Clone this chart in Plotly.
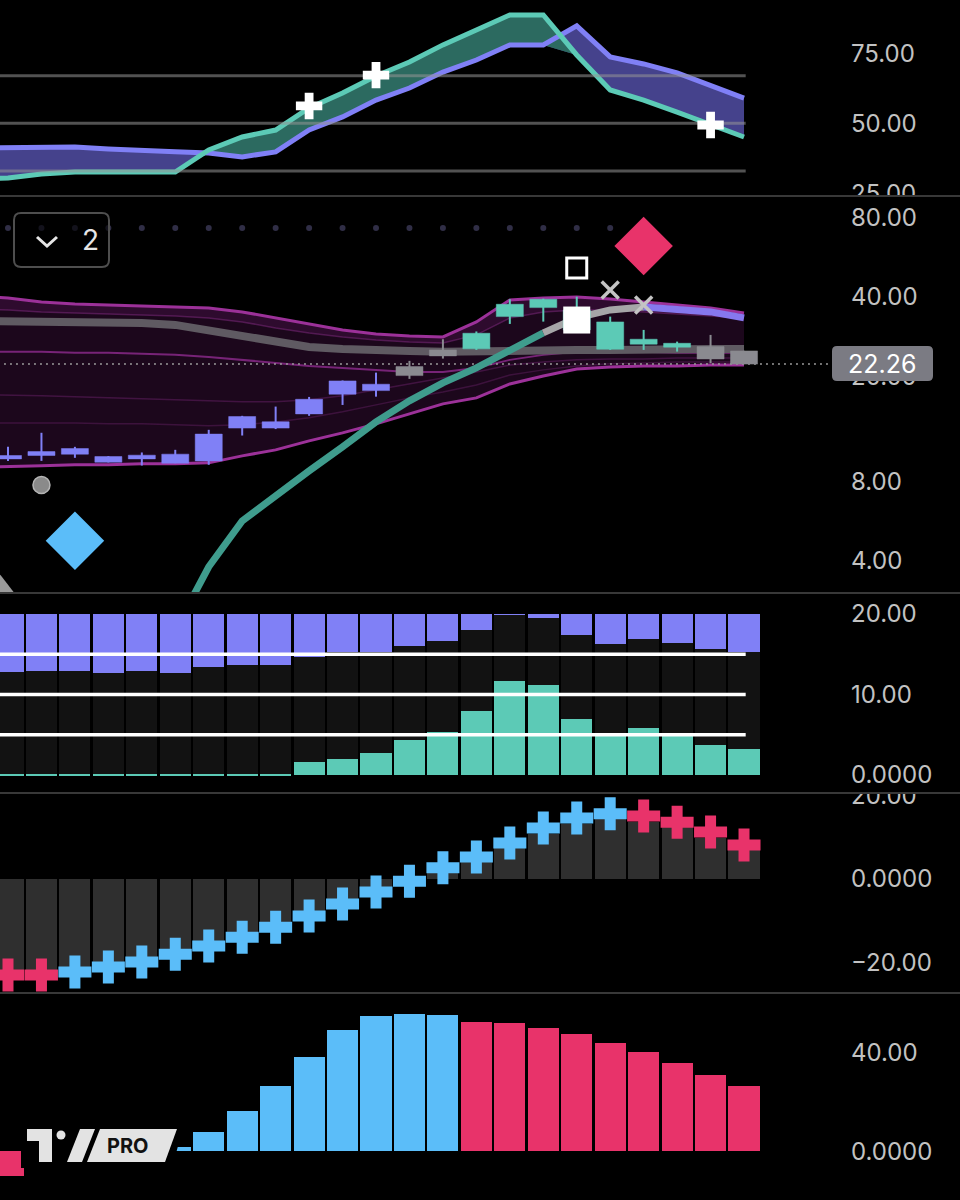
import plotly.graph_objects as go
from plotly.subplots import make_subplots
import numpy as np

W, H = 960, 1200
PLOT_R = 830          # right edge of plotting area (px)
XRANGE = [-0.239, 24.57]

idx = list(range(23))          # bar slots
line_x = list(range(-1, 23))   # line series include the partly hidden previous bar

# ---------------- Panel 1 (oscillator) ----------------
osc_fast = [29.9, 30.5, 31.9, 32.6, 32.6, 32.6, 32.6, 40.5, 45.1, 47.6, 55.5, 60.8, 66.9, 71.9,
            78.0, 83.3, 88.7, 88.7, 74.4, 61.9, 58.3, 54.0, 49.4, 45.1]
osc_slow = [41.2, 41.2, 41.2, 41.5, 40.8, 40.5, 39.8, 39.4, 38.0, 39.8, 47.6, 52.3, 58.3, 62.6,
            68.3, 72.6, 78.0, 78.0, 84.8, 73.7, 71.2, 68.0, 63.7, 59.0]
osc_levels = [33, 50, 67]
osc_cross_x = [9, 11, 21]
osc_cross_y = [56.2, 67.2, 49.4]

# ---------------- Panel 2 (price, log) ----------------
c_open = [10.03, 10.03, 10.15, 9.94, 10.06, 9.38, 9.57, 12.74, 12.74, 14.42, 17.12, 18.68, 20.14,
          23.92, 25.43, 33.69, 36.44, 35.7, 32.17, 27.66, 26.70, 25.94, 24.98]
c_close = [9.74, 10.38, 10.66, 9.46, 9.74, 10.15, 12.09, 14.09, 13.46, 16.38, 19.23, 17.67, 21.78,
           25.20, 29.14, 37.52, 39.2, 30.0, 25.35, 26.49, 25.81, 23.29, 22.26]
c_high = [10.82, 12.23, 10.82, 9.98, 10.30, 10.54, 12.55, 14.18, 15.37, 16.72, 19.30, 20.67, 22.90,
          27.66, 29.60, 39.2, 39.4, 40.1, 33.69, 30.0, 27.09, 28.72, 25.0]
c_low = [9.57, 9.57, 9.83, 9.44, 9.19, 9.38, 9.25, 11.94, 12.63, 14.18, 15.59, 16.76, 19.57,
         23.36, 25.2, 31.61, 32.25, 29.5, 25.20, 25.2, 24.83, 22.44, 22.26]
c_group = ['p', 'p', 'p', 'p', 'p', 'p', 'p', 'p', 'p', 'p', 'p', 'p', 'g',
           'g', 't', 't', 't', 't', 't', 't', 't', 'g', 'g']
last_price = 22.26

rib_top = [40.4, 39.65, 38.29, 37.63, 37.30, 36.98, 36.66, 36.34, 35.10, 33.31, 31.61, 30.00, 28.97, 28.47,
           28.22, 32.17, 38.97, 39.65, 40.00, 39.31, 38.29, 37.30, 36.34, 34.79]
rib_mid1 = [36.0, 35.71, 35.10, 34.79, 34.49, 34.19, 33.89, 33.31, 32.17, 30.53, 29.22, 28.22, 27.49, 27.02,
            26.78, 28.72, 33.31, 35.10, 35.71, 35.71, 35.10, 34.49, 33.89, 33.31]
rib_gray = [32.45, 32.45, 32.45, 32.17, 32.17, 31.89, 31.34, 30.00, 28.22, 27.02, 25.86, 25.42, 24.98, 24.98,
            24.77, 24.98, 25.20, 25.20, 25.20, 25.20, 25.42, 25.42, 25.42, 25.42]
rib_mid2 = [24.8, 24.77, 24.77, 24.56, 24.56, 24.35, 24.13, 23.71, 23.10, 22.50, 21.92, 21.54, 21.17, 20.79,
            20.79, 21.54, 23.10, 24.13, 24.77, 24.77, 24.77, 24.56, 24.56, 24.56]
rib_mid3 = [17.1, 17.02, 16.88, 16.73, 16.58, 16.44, 16.30, 16.16, 16.02, 16.02, 16.30, 16.88, 17.78, 18.73,
            19.74, 20.79, 22.11, 22.70, 23.10, 23.30, 23.30, 23.50, 23.50, 23.50]
rib_mid4 = [13.33, 13.33, 13.33, 13.33, 13.22, 13.22, 13.11, 12.99, 13.11, 13.45, 13.93, 14.68, 15.60, 16.58,
            17.47, 18.57, 20.26, 21.17, 21.92, 22.31, 22.50, 22.70, 22.70, 22.70]
rib_bot = [9.05, 9.086, 9.166, 9.246, 9.246, 9.327, 9.327, 9.409, 10.00, 10.535, 11.40, 12.22, 13.22, 14.42,
           15.74, 16.58, 18.73, 20.08, 21.35, 21.73, 21.92, 21.92, 22.11, 22.11]
curve = [None, None, None, None, None, 2.19, 3.80, 5.67, 7.12, 8.77, 10.82, 13.45, 16.16,
         18.90, 21.54, 25.20, 29.22, 33.31, 35.71, 36.66, 36.02, 35.10, 33.31]

dots_x = list(range(19))
dots_level = 73.0
sq_open = (17, 51.5)
diamond_red = (19, 62.4)
x_marks_x = [18, 19]
x_marks_y = [42.5, 37.3]
sq_white = (17, 32.7)
circle_gray = (1, 7.76)
diamond_blue = (2, 4.77)
tri_gray = (-0.23, 3.11)

# ---------------- Panel 3 ----------------
p3_max = 20
p3_purple_bottom = [12.80, 12.96, 12.88, 12.71, 12.88, 12.71, 13.45, 13.63, 13.63, 14.62, 15.32, 15.32,
                    16.02, 16.68, 18.01, 19.88, 19.54, 17.39, 16.27, 16.86, 16.36, 15.65, 15.32]
p3_teal = [0.12, 0.12, 0.12, 0.12, 0.12, 0.12, 0.12, 0.12, 0.12, 1.65, 1.99, 2.69, 4.35, 5.38, 7.95,
           11.68, 11.18, 6.92, 5.06, 5.88, 4.97, 3.73, 3.19]
p3_levels = [5, 10, 15]

# ---------------- Panel 4 ----------------
p4_hist = [-21.9, -21.9, -21.2, -20.0, -18.8, -16.9, -14.9, -12.8, -10.4, -7.7, -4.8, -1.9, -0.2,
           1.4, 4.1, 7.5, 10.8, 13.3, 14.5, 13.7, 12.5, 9.9, 7.0]
p4_cross = [-23.1, -23.1, -22.4, -21.2, -20.0, -18.1, -16.1, -14.0, -11.6, -8.9, -6.0, -3.1, -0.5,
            2.7, 5.3, 8.7, 12.3, 14.7, 15.7, 15.2, 13.7, 11.3, 8.2]
p4_up = [False, False, True, True, True, True, True, True, True, True, True, True, True,
         True, True, True, True, True, True, False, False, False, False]

# ---------------- Panel 5 ----------------
p5_vals = [-10, -6, -4, -2, 0.8, 1.8, 7.7, 16.4, 26.3, 38.0, 49.2, 55.0, 55.6, 55.2, 52.5, 52.1,
           49.8, 47.4, 43.8, 40.4, 35.6, 31.0, 26.5]
p5_up = [False, True, True, True, True, True, True, True, True, True, True, True, True, True,
         False, False, False, False, False, False, False, False, False]

# ---------------- colours ----------------
TEAL = '#5ccab6'
PURPLE = '#8080f6'
GRAYC = '#8a8a90'
BLUE = '#5bbdf9'
RED = '#e8336a'
MAG = '#9c3199'
HALF = 0.404   # candle half body width (in bar slots)

fig = make_subplots(rows=5, cols=1, vertical_spacing=0.002)

# ===== Panel 1 =====
lo = list(np.minimum(osc_fast, osc_slow))
fig.add_trace(go.Scatter(x=line_x, y=lo, mode='lines', line=dict(width=0), hoverinfo='skip'), 1, 1)
fig.add_trace(go.Scatter(x=line_x, y=osc_slow, mode='lines', line=dict(width=0), fill='tonexty',
                         fillcolor='#45428c', hoverinfo='skip'), 1, 1)
fig.add_trace(go.Scatter(x=line_x, y=lo, mode='lines', line=dict(width=0), hoverinfo='skip'), 1, 1)
fig.add_trace(go.Scatter(x=line_x, y=osc_fast, mode='lines', line=dict(width=0), fill='tonexty',
                         fillcolor='#2c6a60', hoverinfo='skip'), 1, 1)
fig.add_trace(go.Scatter(x=line_x, y=osc_slow, mode='lines', line=dict(color=PURPLE, width=5)), 1, 1)
fig.add_trace(go.Scatter(x=line_x, y=osc_fast, mode='lines', line=dict(color=TEAL, width=5)), 1, 1)
for lv in osc_levels:
    fig.add_trace(go.Scatter(x=[-0.3, 22.05], y=[lv, lv], mode='lines',
                             line=dict(color='rgba(150,150,150,0.55)', width=3)), 1, 1)
fig.add_trace(go.Scatter(x=osc_cross_x, y=osc_cross_y, mode='markers',
                         marker=dict(symbol='cross', size=22, color='white', line=dict(width=0))), 1, 1)

# ===== Panel 2 =====
fig.add_trace(go.Scatter(x=line_x, y=rib_bot, mode='lines', line=dict(width=0), hoverinfo='skip'), 2, 1)
fig.add_trace(go.Scatter(x=line_x, y=rib_top, mode='lines', line=dict(width=0), fill='tonexty',
                         fillcolor='rgba(110,28,110,0.26)', hoverinfo='skip'), 2, 1)
fig.add_trace(go.Scatter(x=line_x, y=rib_mid1, mode='lines', line=dict(width=0), hoverinfo='skip'), 2, 1)
fig.add_trace(go.Scatter(x=line_x, y=rib_top, mode='lines', line=dict(width=0), fill='tonexty',
                         fillcolor='rgba(140,40,140,0.16)', hoverinfo='skip'), 2, 1)
for arr, col, wd in [(rib_mid1, 'rgba(120,40,120,0.55)', 1.5), (rib_mid2, 'rgba(150,45,150,0.75)', 2),
                     (rib_mid3, 'rgba(110,35,110,0.45)', 1.5), (rib_mid4, 'rgba(110,35,110,0.4)', 1.5)]:
    fig.add_trace(go.Scatter(x=line_x, y=arr, mode='lines', line=dict(color=col, width=wd)), 2, 1)
fig.add_trace(go.Scatter(x=line_x, y=rib_top, mode='lines', line=dict(color=MAG, width=3)), 2, 1)
fig.add_trace(go.Scatter(x=line_x, y=rib_bot, mode='lines', line=dict(color=MAG, width=3)), 2, 1)
fig.add_trace(go.Scatter(x=line_x, y=rib_gray, mode='lines', line=dict(color='#5f5a62', width=8)), 2, 1)
# last price dotted line
fig.add_trace(go.Scatter(x=[-0.3, 24.6], y=[last_price, last_price], mode='lines',
                         line=dict(color='#9a9a9a', width=1.5, dash='2px,4px')), 2, 1)
# dots row
fig.add_trace(go.Scatter(x=dots_x, y=[dots_level] * len(dots_x), mode='markers',
                         marker=dict(size=6, color='#302e46')), 2, 1)
# curve segments
seg_t = [c if (c is not None and i <= 16) else None for i, c in enumerate(curve)]
seg_g = [c if 16 <= i <= 19 else None for i, c in enumerate(curve)]
seg_p = [c if i >= 19 else None for i, c in enumerate(curve)]
fig.add_trace(go.Scatter(x=idx, y=seg_t, mode='lines', line=dict(color='#3f9c8d', width=7)), 2, 1)
fig.add_trace(go.Scatter(x=idx, y=seg_g, mode='lines', line=dict(color='#a6a6a8', width=7)), 2, 1)
fig.add_trace(go.Scatter(x=idx, y=seg_p, mode='lines', line=dict(color='#8678ee', width=7)), 2, 1)

# candles (drawn as scatter so they sit above the ribbon)
for g, col in [('p', PURPLE), ('g', GRAYC), ('t', TEAL)]:
    sel = [i for i in idx if c_group[i] == g]
    wx, wy, bx, by = [], [], [], []
    for i in sel:
        wx += [i, i, None]
        wy += [c_low[i], c_high[i], None]
        b0, b1 = min(c_open[i], c_close[i]), max(c_open[i], c_close[i])
        bx += [i - HALF, i + HALF, i + HALF, i - HALF, i - HALF, None]
        by += [b0, b0, b1, b1, b0, None]
    fig.add_trace(go.Scatter(x=wx, y=wy, mode='lines', line=dict(color=col, width=2)), 2, 1)
    fig.add_trace(go.Scatter(x=bx, y=by, mode='lines', fill='toself', fillcolor=col,
                             line=dict(color=col, width=0.5)), 2, 1)

# markers
fig.add_trace(go.Scatter(x=[tri_gray[0]], y=[tri_gray[1]], mode='markers',
                         marker=dict(symbol='triangle-up', size=30, color='#9a9a9a')), 2, 1)
fig.add_trace(go.Scatter(x=[circle_gray[0]], y=[circle_gray[1]], mode='markers',
                         marker=dict(symbol='circle', size=17, color='#8a8a8a',
                                     line=dict(color='#b5b5b5', width=1.5))), 2, 1)
fig.add_trace(go.Scatter(x=[diamond_blue[0]], y=[diamond_blue[1]], mode='markers',
                         marker=dict(symbol='diamond', size=45, color=BLUE, line=dict(width=0))), 2, 1)
fig.add_trace(go.Scatter(x=[diamond_red[0]], y=[diamond_red[1]], mode='markers',
                         marker=dict(symbol='diamond', size=45, color=RED, line=dict(width=0))), 2, 1)
fig.add_trace(go.Scatter(x=[sq_open[0]], y=[sq_open[1]], mode='markers',
                         marker=dict(symbol='square-open', size=20, color='white',
                                     line=dict(color='white', width=3))), 2, 1)
fig.add_trace(go.Scatter(x=[sq_white[0]], y=[sq_white[1]], mode='markers',
                         marker=dict(symbol='square', size=27, color='white', line=dict(width=0))), 2, 1)
fig.add_trace(go.Scatter(x=x_marks_x, y=x_marks_y, mode='markers',
                         marker=dict(symbol='x-thin', size=17, color='#c4c4c4',
                                     line=dict(color='#c4c4c4', width=3.5))), 2, 1)

# ===== Panel 3 =====
fig.add_trace(go.Bar(x=idx, y=[p3_max] * 23, width=0.93, marker=dict(color='#121212', line=dict(width=0))), 3, 1)
fig.add_trace(go.Bar(x=idx, y=[p3_max - b for b in p3_purple_bottom], base=p3_purple_bottom, width=0.93,
                     marker=dict(color=PURPLE, line=dict(width=0))), 3, 1)
fig.add_trace(go.Bar(x=idx, y=p3_teal, width=0.93, marker=dict(color=TEAL, line=dict(width=0))), 3, 1)
for lv in p3_levels:
    fig.add_trace(go.Scatter(x=[-0.3, 22.05], y=[lv, lv], mode='lines',
                             line=dict(color='white', width=3.5)), 3, 1)

# ===== Panel 4 =====
fig.add_trace(go.Bar(x=idx, y=p4_hist, width=0.93, marker=dict(color='#2f2f2f', line=dict(width=0))), 4, 1)
fig.add_trace(go.Scatter(x=idx, y=p4_cross, mode='markers',
                         marker=dict(symbol='cross', size=27.5, line=dict(width=0),
                                     color=[BLUE if u else RED for u in p4_up])), 4, 1)

# ===== Panel 5 =====
fig.add_trace(go.Bar(x=idx, y=p5_vals, width=0.93,
                     marker=dict(color=[BLUE if u else RED for u in p5_up], line=dict(width=0))), 5, 1)

# ---------------- axes ----------------
domains = [[1 - 195 / H, 1.0], [1 - 592 / H, 1 - 198 / H], [1 - 790 / H, 1 - 595 / H],
           [1 - 992 / H, 1 - 795 / H], [0.0, 1 - 995 / H]]
yranges = [[24.40, 94.03], [np.log10(3.05), np.log10(94.8)], [-1.86, 22.36], [-27.2, 20.24], [-19.7, 63.3]]
tickv = [[25, 50, 75], [4, 8, 20, 40, 80], [0, 10, 20], [-20, 0, 20], [0, 40]]
tickt = [['25.00', '50.00', '75.00'], ['4.00', '8.00', '20.00', '40.00', '80.00'],
         ['0.0000', '10.00', '20.00'], ['\u221220.00', '0.0000', '20.00'], ['0.0000', '40.00']]
FONT = 'Inter, Roboto, sans-serif'
for k in range(5):
    sfx = '' if k == 0 else str(k + 1)
    fig.layout['yaxis' + sfx].update(
        domain=domains[k], range=yranges[k], side='right', showgrid=False, zeroline=False,
        showline=False, ticks='', tickvals=tickv[k], ticktext=tickt[k], ticklabelstandoff=20,
        tickfont=dict(size=24, color='#c2c2c2', family=FONT), automargin=False,
        type='log' if k == 1 else 'linear')
    fig.layout['xaxis' + sfx].update(range=XRANGE, visible=False, showgrid=False, zeroline=False,
                                     automargin=False, rangeslider=dict(visible=False))


# ---------------- shapes / annotations ----------------
def pp(x, y):
    return f'{x / PLOT_R:.5f},{1 - y / H:.5f}'


def poly(pts):
    return 'M' + ' L'.join(pp(x, y) for x, y in pts) + ' Z'


def rrect(x0, y0, x1, y1, r):
    return ('M' + pp(x0 + r, y0) + ' L' + pp(x1 - r, y0) + ' Q' + pp(x1, y0) + ' ' + pp(x1, y0 + r) +
            ' L' + pp(x1, y1 - r) + ' Q' + pp(x1, y1) + ' ' + pp(x1 - r, y1) +
            ' L' + pp(x0 + r, y1) + ' Q' + pp(x0, y1) + ' ' + pp(x0, y1 - r) +
            ' L' + pp(x0, y0 + r) + ' Q' + pp(x0, y0) + ' ' + pp(x0 + r, y0) + ' Z')


shapes = []
# covers for clipped labels
shapes.append(dict(type='rect', xref='paper', yref='paper', x0=832 / PLOT_R, x1=W / PLOT_R,
                   y0=1 - 208 / H, y1=1 - 196 / H, fillcolor='black', line=dict(width=0), layer='above'))
shapes.append(dict(type='rect', xref='paper', yref='paper', x0=832 / PLOT_R, x1=W / PLOT_R,
                   y0=1 - 794 / H, y1=1 - 786 / H, fillcolor='black', line=dict(width=0), layer='above'))
# separators
for yy in [196, 593, 793, 993]:
    shapes.append(dict(type='line', xref='paper', yref='paper', x0=0, x1=W / PLOT_R,
                       y0=1 - yy / H, y1=1 - yy / H, line=dict(color='#383838', width=2), layer='above'))
# collapse box
shapes.append(dict(type='path', xref='paper', yref='paper', path=rrect(14, 213, 109, 267, 7),
                   fillcolor='rgba(0,0,0,0.6)', line=dict(color='#4e4e4e', width=2), layer='above'))
shapes.append(dict(type='path', xref='paper', yref='paper',
                   path='M' + pp(37, 237) + ' L' + pp(47, 246) + ' L' + pp(57, 237),
                   fillcolor='rgba(0,0,0,0)', line=dict(color='#e6e6e6', width=3), layer='above'))
# last-price label
shapes.append(dict(type='path', xref='paper', yref='paper', path=rrect(832, 346, 933, 381, 5),
                   fillcolor='#7b7b83', line=dict(width=0), layer='above'))
# logo
shapes.append(dict(type='path', xref='paper', yref='paper',
                   path=poly([(21, 1124), (184, 1124), (172, 1168), (21, 1168)]),
                   fillcolor='black', line=dict(width=0), layer='above'))
LG = '#e3e3e3'
shapes.append(dict(type='path', xref='paper', yref='paper',
                   path=poly([(27, 1129), (52, 1129), (52, 1162), (39, 1162), (39, 1141), (27, 1141)]),
                   fillcolor=LG, line=dict(width=0), layer='above'))
shapes.append(dict(type='circle', xref='paper', yref='paper', x0=56.5 / PLOT_R, x1=65.5 / PLOT_R,
                   y0=1 - 1139.5 / H, y1=1 - 1130.5 / H, fillcolor=LG, line=dict(width=0), layer='above'))
shapes.append(dict(type='path', xref='paper', yref='paper',
                   path=poly([(80, 1129), (95, 1129), (82, 1162), (67, 1162)]),
                   fillcolor=LG, line=dict(width=0), layer='above'))
shapes.append(dict(type='path', xref='paper', yref='paper',
                   path=poly([(100, 1129), (177, 1129), (165, 1162), (87, 1162)]),
                   fillcolor=LG, line=dict(width=0), layer='above'))

annotations = [
    dict(xref='paper', yref='paper', x=90 / PLOT_R, y=1 - 240 / H, text='2', showarrow=False,
         xanchor='center', yanchor='middle', font=dict(size=28, color='#e6e6e6', family=FONT)),
    dict(xref='paper', yref='paper', x=882 / PLOT_R, y=1 - 363.5 / H, text=f'{last_price:.2f}',
         xanchor='center', yanchor='middle', showarrow=False,
         font=dict(size=25, color='white', family=FONT)),
    dict(xref='paper', yref='paper', x=128 / PLOT_R, y=1 - 1146 / H, text='<b>PRO</b>',
         xanchor='center', yanchor='middle', showarrow=False,
         font=dict(size=20, color='#111111', family=FONT)),
]

fig.update_layout(
    width=W, height=H, margin=dict(l=0, r=W - PLOT_R, t=0, b=0, pad=0, autoexpand=False),
    paper_bgcolor='black', plot_bgcolor='black', showlegend=False,
    barmode='overlay', bargap=0,
    shapes=shapes, annotations=annotations, hovermode=False,
)

fig.write_html('out.html', config={'displayModeBar': False},
               post_script="document.body.style.margin='0';document.body.style.overflow='hidden';"
                           "document.body.style.background='black';")
